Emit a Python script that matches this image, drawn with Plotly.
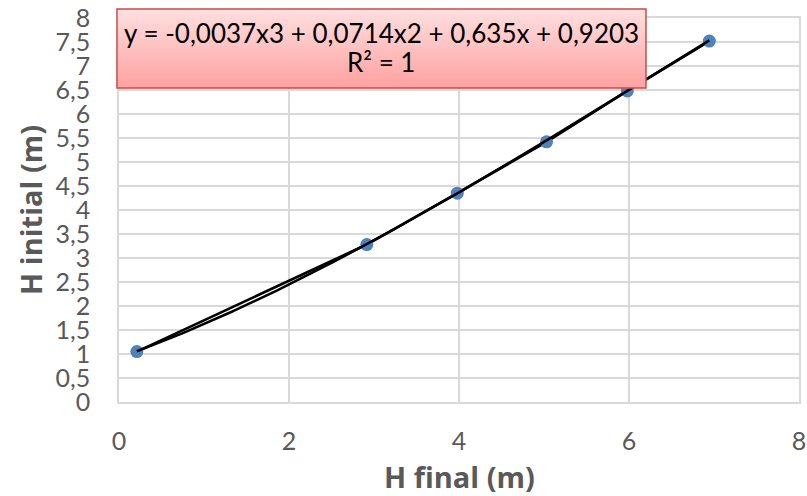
import numpy as np
import plotly.graph_objects as go

# Data
h_final = [0.21, 2.915, 3.98, 5.03, 5.98, 6.945]
h_initial = [1.05, 3.28, 4.35, 5.42, 6.48, 7.52]
# Trendline coefficients (polynomial order 3), from the chart label
poly_coefs = [-0.0037, 0.0714, 0.635, 0.9203]
x_ticks = [0, 2, 4, 6, 8]
y_ticks = [0, 0.5, 1, 1.5, 2, 2.5, 3, 3.5, 4, 4.5, 5, 5.5, 6, 6.5, 7, 7.5, 8]
y_tick_labels = [("%g" % v).replace(".", ",") for v in y_ticks]
eq_line1 = "y = -0,0037x3 + 0,0714x2 + 0,635x + 0,9203"
eq_line2 = "R² = 1"
x_title = "H final (m)"
y_title = "H initial (m)"

FONT = "Lato"
TFONT = "Open Sans"
GREY = "#595959"

xs = np.linspace(min(h_final), max(h_final), 200)
ys = np.polyval(poly_coefs, xs)

fig = go.Figure()
fig.add_trace(go.Scatter(
    x=h_final, y=h_initial, mode="lines+markers",
    line=dict(color="black", width=2.7),
    marker=dict(color="#4f81bd", size=13),
    showlegend=False, hoverinfo="skip"))
fig.add_trace(go.Scatter(
    x=xs, y=ys, mode="lines",
    line=dict(color="black", width=2.5),
    showlegend=False, hoverinfo="skip"))

# Gradient box for equation label
x0, x1 = -0.003, 0.775
y0, y1 = 0.818, 1.0234
n = 30
top = np.array([0xff, 0xe0, 0xe0])
bot = np.array([0xff, 0xa2, 0xa2])
shapes = []
for i in range(n):
    t = (i + 0.5) / n
    c = top * (1 - t) + bot * t
    ya = y1 - (y1 - y0) * i / n
    yb = y1 - (y1 - y0) * (i + 1) / n
    shapes.append(dict(type="rect", xref="paper", yref="paper",
                       x0=x0, x1=x1, y0=yb - 0.001, y1=ya + 0.001,
                       fillcolor="rgb(%d,%d,%d)" % tuple(c.astype(int)),
                       line=dict(width=0), layer="above"))
shapes.append(dict(type="rect", xref="paper", yref="paper",
                   x0=x0, x1=x1, y0=y0, y1=y1,
                   fillcolor="rgba(0,0,0,0)",
                   line=dict(color="#c0504d", width=1.5), layer="above"))

fig.update_layout(
    width=807, height=496,
    margin=dict(l=119, r=8, t=18, b=94),
    paper_bgcolor="white", plot_bgcolor="white",
    font=dict(family=FONT, color=GREY),
    shapes=shapes,
    annotations=[
        dict(xref="paper", yref="paper", x=(x0 + x1) / 2, y=0.961,
             xanchor="center", yanchor="middle",
             text=eq_line1, showarrow=False,
             font=dict(family=FONT, size=26, color="black")),
        dict(xref="paper", yref="paper", x=(x0 + x1) / 2, y=0.885,
             xanchor="center", yanchor="middle",
             text=eq_line2, showarrow=False,
             font=dict(family=FONT, size=26, color="black")),
        dict(xref="paper", yref="paper", x=0.5, y=-0.194,
             xanchor="center", yanchor="middle",
             text="<b>%s</b>" % x_title, showarrow=False,
             font=dict(family=TFONT, size=29, color=GREY)),
        dict(xref="paper", yref="paper", x=-0.131, y=0.5,
             xanchor="center", yanchor="middle", textangle=-90,
             text="<b>%s</b>" % y_title, showarrow=False,
             font=dict(family=TFONT, size=29, color=GREY)),
    ],
    xaxis=dict(
        range=[0, 8], tickvals=x_ticks, ticktext=[str(v) for v in x_ticks],
        showgrid=True, gridcolor="#d9d9d9", gridwidth=1.5,
        zeroline=False, showline=True, linecolor="#d9d9d9", linewidth=1.5,
        mirror=True, ticks="", ticklabelstandoff=16, automargin=False,
        ticklabeloverflow="allow",
        tickfont=dict(family=FONT, size=25, color=GREY)),
    yaxis=dict(
        range=[0, 8], tickvals=y_ticks, ticktext=y_tick_labels,
        showgrid=True, gridcolor="#d9d9d9", gridwidth=1.5,
        zeroline=False, showline=True, linecolor="#d9d9d9", linewidth=1.5,
        mirror=True, ticks="", ticklabelstandoff=22, automargin=False,
        ticklabeloverflow="allow",
        tickfont=dict(family=FONT, size=25, color=GREY)),
)

fig.write_html("out.html", config={"displayModeBar": False},
               post_script="document.body.style.margin='0';")
